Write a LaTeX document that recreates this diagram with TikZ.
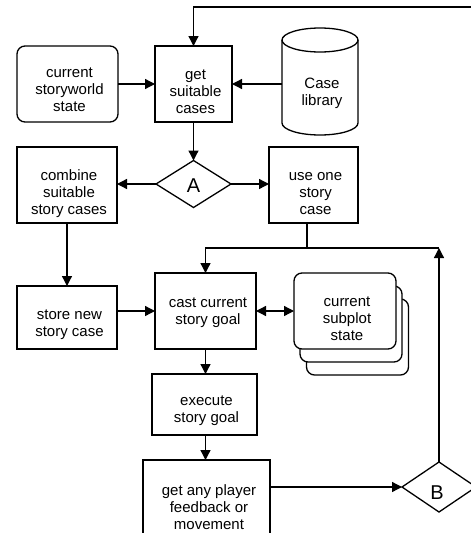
\documentclass[tikz,border=0pt]{standalone}
\usepackage{fontspec}
\setmainfont{Liberation Sans}
\usetikzlibrary{shapes.geometric, arrows.meta}

\begin{document}
\begin{tikzpicture}[x=1pt, y=-1pt,
  line width=1.3pt,
  every node/.style={inner sep=0pt, outer sep=0pt},
  wh/.style 2 args={minimum width=#1pt, minimum height=#2pt},
  proc/.style={draw, fill=white, rectangle},
  soft/.style={draw, fill=white, rectangle, rounded corners=8pt},
  decide/.style={draw, fill=white, diamond},
  lbl/.style={font=\fontsize{15}{17}\selectfont, align=center},
  big/.style={font=\fontsize{20}{24}\selectfont},
  arr/.style={-{Triangle[length=10pt, width=10pt]}},
  arrboth/.style={{Triangle[length=10pt, width=10pt]}-{Triangle[length=10pt, width=10pt]}}
]
\useasboundingbox (0,0) rectangle (471,533);
\clip (0,0) rectangle (471,533);

% --- top row -------------------------------------------------------
\node[soft, wh={101}{76}] (cws) at (67.5,84) {};
\node[proc, wh={77}{76}] (gsc) at (193.5,84) {};
\node[wh={76}{107}] (lib) at (320,81.5) {};
% case library drawn as a cylinder
\draw[fill=white] (282,40) -- (282,123)
  arc[start angle=180, end angle=360, x radius=38pt, y radius=12pt] -- (358,40);
\draw (320,40) ellipse [x radius=38pt, y radius=12pt];

% --- decision A and its branches ----------------------------------
\node[decide, wh={75}{47}] (A) at (193.5,184) {};
\node[proc, wh={100}{76}] (comb) at (67,185) {};
\node[proc, wh={89}{76}] (use) at (313.5,185) {};

% --- goal handling -------------------------------------------------
\node[proc, wh={100}{63}] (store) at (67,317.5) {};
\node[proc, wh={101}{76}] (cast) at (205.5,311) {};
\node[soft, wh={102}{76}] (sub3) at (357.5,337) {};
\node[soft, wh={102}{76}] (sub2) at (351,324) {};
\node[soft, wh={102}{76}] (sub) at (345,311) {};
\node[proc, wh={105}{61}] (exec) at (204.5,404.5) {};
\node[proc, wh={127}{90}] (get) at (206.5,505) {};
\node[decide, wh={74}{50}] (B) at (439,487) {};

% --- labels --------------------------------------------------------
\node[lbl] (cws-t) at (69.5,89.6) {current\\storyworld\\state};
\node[lbl] (gsc-t) at (195.5,92) {get\\suitable\\cases};
\node[lbl] (lib-t) at (322,93.6) {Case\\library};
\node[big] (A-t) at (193.5,185.5) {A};
\node[lbl] (comb-t) at (69,193.5) {combine\\suitable\\story cases};
\node[lbl] (use-t) at (315.5,193.3) {use one\\story\\case};
\node[lbl] (store-t) at (69.5,324.5) {store new\\story case};
\node[lbl] (cast-t) at (208,312.5) {cast current\\story goal};
\node[lbl] (sub-t) at (347,318.9) {current\\subplot\\state};
\node[lbl] (exec-t) at (206.5,410.5) {execute\\story goal};
\node[lbl] (get-t) at (209,507.5) {get any player\\feedback or\\movement};
\node[big] (B-t) at (437,492.5) {B};

% --- connectors ----------------------------------------------------
\coordinate (ju) at (307,248);
\coordinate (jr) at (B.north |- ju);
\coordinate (loop) at (490,7);

\draw[arr] (cws.east) -- (gsc.west);
\draw[arr] (lib.west |- gsc.east) -- (gsc.east);
\draw[arr] (gsc.south) -- (A.north);
\draw[arr] (A.west) -- (A.west -| comb.east);
\draw[arr] (A.east) -- (A.east -| use.west);
\draw[arr] (comb.south) -- (store.north);
\draw (ju |- use.south) -- (ju);
\draw[arr] (jr) -| (cast.north);
\draw[arr] (store.east |- cast.west) -- (cast.west);
\draw[arrboth] (cast.east) -- (sub.west);
\draw[arr] (cast.south) -- (cast.south |- exec.north);
\draw[arr] (cast.south |- exec.south) -- (cast.south |- get.north);
\draw[arr] (get.east |- B.west) -- (B.west);
\draw[arr] (B.north) -- (jr);
\draw[arr] (B.east) -| (loop) -| (gsc.north);
\end{tikzpicture}
\end{document}
